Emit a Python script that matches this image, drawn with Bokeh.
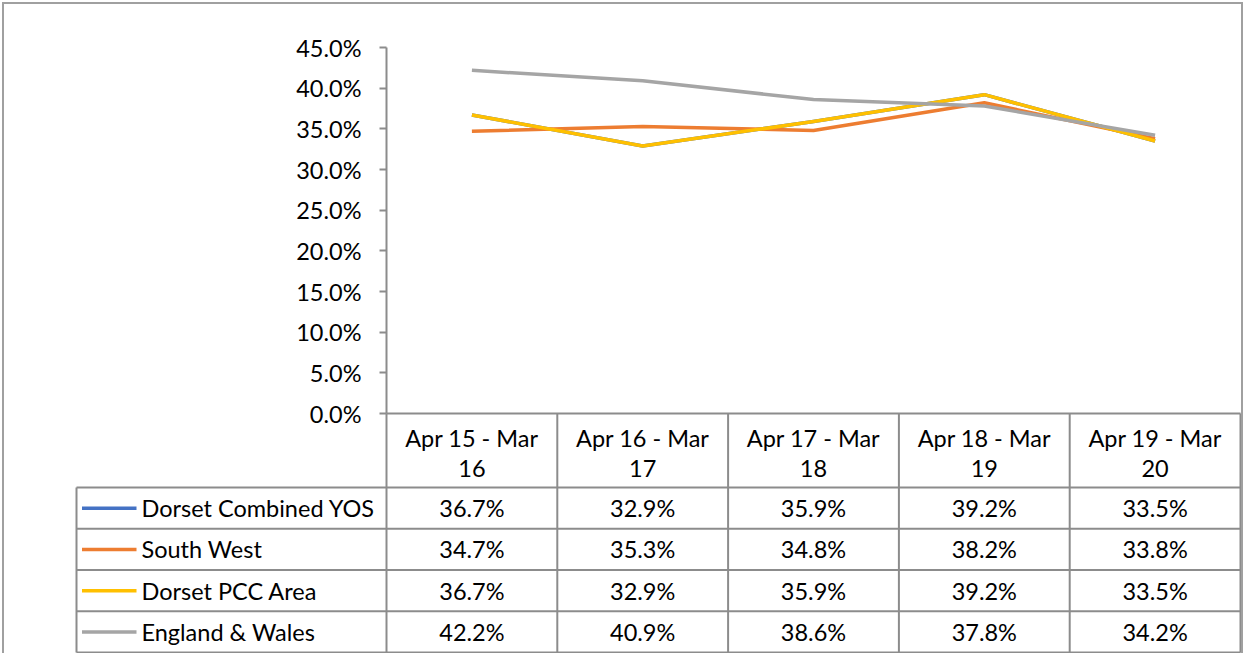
from bokeh.plotting import figure
from bokeh.models import Range1d, FixedTicker, NumeralTickFormatter, ColumnDataSource
from bokeh.layouts import column
from bokeh.embed import file_html
from bokeh.resources import INLINE
from bokeh.core.properties import value

# ---------------- data ----------------
categories = ["Apr 15 - Mar 16", "Apr 16 - Mar 17", "Apr 17 - Mar 18",
              "Apr 18 - Mar 19", "Apr 19 - Mar 20"]
series_names = ["Dorset Combined YOS", "South West", "Dorset PCC Area", "England & Wales"]
dorset_yos = [0.367, 0.329, 0.359, 0.392, 0.335]
south_west = [0.347, 0.353, 0.348, 0.382, 0.338]
dorset_pcc = [0.367, 0.329, 0.359, 0.392, 0.335]
england_wales = [0.422, 0.409, 0.386, 0.378, 0.342]
y_ticks = [0.0, 0.05, 0.10, 0.15, 0.20, 0.25, 0.30, 0.35, 0.40, 0.45]

series_values = [dorset_yos, south_west, dorset_pcc, england_wales]
colors = ["#4472C4", "#ED7D31", "#FFC000", "#A5A5A5"]

FONT = value("Lato")
FS = "23.5px"
GRID = "#8c8c8c"
LW = 3.5

# ---------------- layout constants (page px) ----------------
ORG = 4                 # canvas origin on page (margin + border)
W, H = 1237, 649        # canvas size
AX_X = 386              # y axis position
TAB_R = 1240            # table right edge
TAB_L = 76              # table left edge
Y0, Y45 = 413, 47       # 0% and 45% positions
HDR_B = 487             # header bottom
TAB_B = 652             # table bottom
YMAX = 0.45
N = len(categories)
NR = len(series_names)
CW = (TAB_R - AX_X) / N
RH = (TAB_B - HDR_B) / NR
PPU = (Y0 - Y45) / YMAX   # px per y unit


def tx(px):
    return (px - AX_X) / CW


def py(px):            # page y -> main y units
    return (Y0 - px) / PPU


def ty(px):            # page y -> table row units
    return (TAB_B - px) / RH


p = figure(width=W, height=H, output_backend="svg", toolbar_location=None,
           x_range=Range1d(tx(ORG), tx(ORG + W)),
           y_range=Range1d(py(ORG + H), py(ORG)),
           x_axis_location=None, y_axis_location="left", min_border=0)
p.extra_y_ranges = {"tab": Range1d(ty(ORG + H), ty(ORG))}
p.outline_line_color = None
p.grid.visible = False

ax = p.yaxis[0]
ax.fixed_location = 0
ax.ticker = FixedTicker(ticks=y_ticks)
ax.formatter = NumeralTickFormatter(format="0.0%")
ax.bounds = (0, YMAX)
ax.minor_tick_line_color = None
ax.major_tick_in = 0
ax.major_tick_out = 7
ax.major_label_standoff = 18
ax.axis_line_color = GRID
ax.axis_line_width = 2
ax.major_tick_line_color = GRID
ax.major_tick_line_width = 2
ax.major_label_text_font = "Lato"
ax.major_label_text_font_size = FS
ax.major_label_text_color = "black"

xs = [i + 0.5 for i in range(N)]

# ---- table grid ----
hdr_top = ty(Y0)
vx = list(range(N + 1))
p.segment(x0=vx, y0=[0] * len(vx), x1=vx, y1=[hdr_top] * len(vx),
          line_color=GRID, line_width=2, y_range_name="tab")
xl = tx(TAB_L)
p.segment(x0=[xl], y0=[0], x1=[xl], y1=[NR], line_color=GRID, line_width=2, y_range_name="tab")
p.segment(x0=[xl] * (NR + 1), y0=list(range(NR + 1)), x1=[N] * (NR + 1), y1=list(range(NR + 1)),
          line_color=GRID, line_width=2, y_range_name="tab")
p.segment(x0=[0], y0=[hdr_top], x1=[N], y1=[hdr_top], line_color=GRID, line_width=2,
          y_range_name="tab")

# ---- header (two lines per category) ----
line1 = [c.rsplit(" ", 1)[0] for c in categories]
line2 = [c.rsplit(" ", 1)[1] for c in categories]
p.text(x=xs, y=[ty(Y0 + 24)] * N, text=line1, text_font=FONT, text_font_size=FS,
       text_align="center", text_baseline="middle", text_color="black", y_range_name="tab")
p.text(x=xs, y=[ty(Y0 + 55)] * N, text=line2, text_font=FONT, text_font_size=FS,
       text_align="center", text_baseline="middle", text_color="black", y_range_name="tab")

# ---- lines ----
for vals, col in zip(series_values, colors):
    p.line(x=xs, y=vals, line_color=col, line_width=LW, line_join="round")

# ---- row labels with swatches ----
row_y = [NR - r - 0.5 for r in range(NR)]
p.segment(x0=[tx(81.5)] * NR, y0=row_y, x1=[tx(136)] * NR, y1=row_y,
          line_color=colors, line_width=LW, y_range_name="tab")
p.text(x=[tx(141)] * NR, y=row_y, text=series_names, text_font=FONT, text_font_size=FS,
       text_align="left", text_baseline="middle", text_color="black", y_range_name="tab")

# ---- cell values ----
cx, cy, ct = [], [], []
for r, vals in enumerate(series_values):
    for i, v in enumerate(vals):
        cx.append(i + 0.5)
        cy.append(row_y[r])
        ct.append(f"{v * 100:.1f}%")
cells = ColumnDataSource(dict(x=cx, y=cy, t=ct))
p.text(x="x", y="y", text="t", source=cells, text_font=FONT, text_font_size=FS,
       text_align="center", text_baseline="middle", text_color="black", y_range_name="tab")

layout = column(p, styles={"margin-left": "2px", "margin-top": "2px",
                           "border-top": "2px solid #a0a0a0",
                           "border-left": "2px solid #a0a0a0",
                           "border-right": "2px solid #a0a0a0"})

open("out.html", "w").write(file_html(layout, INLINE))
